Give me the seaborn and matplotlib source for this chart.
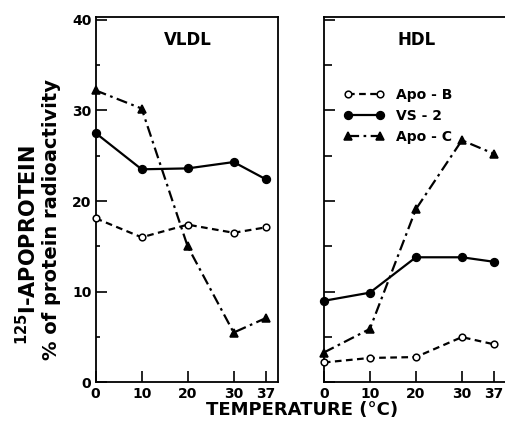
import numpy as np
import pandas as pd
import matplotlib
matplotlib.use("Agg")
import matplotlib.pyplot as plt
import seaborn as sns

# temperatures (deg C) on the x axis
temps = [0, 10, 20, 30, 37]
x_ticks = [0, 10, 20, 30, 37]

# VLDL panel
vldl_apo_b = [18.1, 16.0, 17.4, 16.5, 17.1]
vldl_vs2 = [27.5, 23.5, 23.6, 24.3, 22.4]
vldl_apo_c = [32.2, 30.2, 15.0, 5.5, 7.1]

# HDL panel
hdl_apo_b = [2.2, 2.7, 2.8, 5.0, 4.2]
hdl_vs2 = [9.0, 9.9, 13.8, 13.8, 13.3]
hdl_apo_c = [3.3, 5.9, 19.1, 26.7, 25.2]

series_names = ["Apo - B", "VS - 2", "Apo - C"]

sns.set_style("ticks", rc={"axes.edgecolor": "black", "xtick.color": "black",
                           "ytick.color": "black", "text.color": "black",
                           "axes.labelcolor": "black"})
plt.rcParams['font.family'] = ['DejaVu Sans']
plt.rcParams['font.weight'] = 'bold'

fig = plt.figure(figsize=(5.06, 4.24), dpi=100)
ax1 = fig.add_axes([0.189, 0.098, 0.361, 0.861])
ax2 = fig.add_axes([0.640, 0.098, 0.362, 0.861])

styles = {
    "Apo - B": dict(marker="o", linestyle=(0, (3.0, 2.0)), markerfacecolor="white", ms=4.8),
    "VS - 2": dict(marker="o", linestyle="-", markerfacecolor="black", ms=5.6),
    "Apo - C": dict(marker="^", linestyle=(0, (5.0, 2.0, 1.2, 2.0)), markerfacecolor="black", ms=5.6),
}


def draw_panel(ax, values, title):
    for name, vals in zip(series_names, values):
        df = pd.DataFrame({"temp": temps, "pct": vals})
        st = styles[name]
        sns.lineplot(data=df, x="temp", y="pct", ax=ax, color="black",
                     marker=st["marker"], linestyle=st["linestyle"],
                     markerfacecolor=st["markerfacecolor"], markeredgecolor="black",
                     markeredgewidth=1.1, ms=st["ms"], lw=1.6, label=name,
                     legend=False, clip_on=False, zorder=3)
    ax.set_xlim(0, 39.7)
    ax.set_ylim(0, 40.25)
    ax.set_xticks(x_ticks)
    ax.set_yticks([0, 10, 20, 30, 40])
    ax.set_yticks([5, 15, 25, 35], minor=True)
    ax.set_xlabel("")
    ax.set_ylabel("")
    ax.tick_params(axis="both", which="major", direction="in", length=8, width=1.2,
                   labelsize=10, pad=3)
    ax.tick_params(axis="y", which="minor", direction="in", length=3, width=1.2)
    for sp in ax.spines.values():
        sp.set_linewidth(1.3)
    for lab in ax.get_xticklabels() + ax.get_yticklabels():
        lab.set_fontweight("bold")
    ax.text(0.505, 0.938, title, transform=ax.transAxes, ha="center", va="center",
            fontsize=12, fontweight="bold")


draw_panel(ax1, [vldl_apo_b, vldl_vs2, vldl_apo_c], "VLDL")
draw_panel(ax2, [hdl_apo_b, hdl_vs2, hdl_apo_c], "HDL")

ax2.set_xlim(0, 39.8)
ax2.spines["right"].set_visible(False)
ax2.tick_params(axis="y", which="major", labelleft=False, length=8)
ax2.tick_params(axis="y", which="minor", length=5.5)

leg = ax2.legend(loc="upper left", bbox_to_anchor=(0.07, 0.825), frameon=False,
                 numpoints=2, handlelength=2.9, handletextpad=0.9,
                 labelspacing=0.5, fontsize=10, borderpad=0)
for t in leg.get_texts():
    t.set_fontweight("bold")

fig.text(28 / 506, 1 - 245 / 424, r"$^{125}$I-APOPROTEIN", rotation=90,
         ha="center", va="center", fontsize=15, fontweight="bold")
fig.text(52 / 506, 1 - 219 / 424, "% of protein radioactivity", rotation=90,
         ha="center", va="center", fontsize=14, fontweight="bold")
fig.text(302 / 506, 1 - 410 / 424, "TEMPERATURE (°C)", ha="center", va="center",
         fontsize=13, fontweight="bold")

fig.savefig("out.png", dpi=100)
